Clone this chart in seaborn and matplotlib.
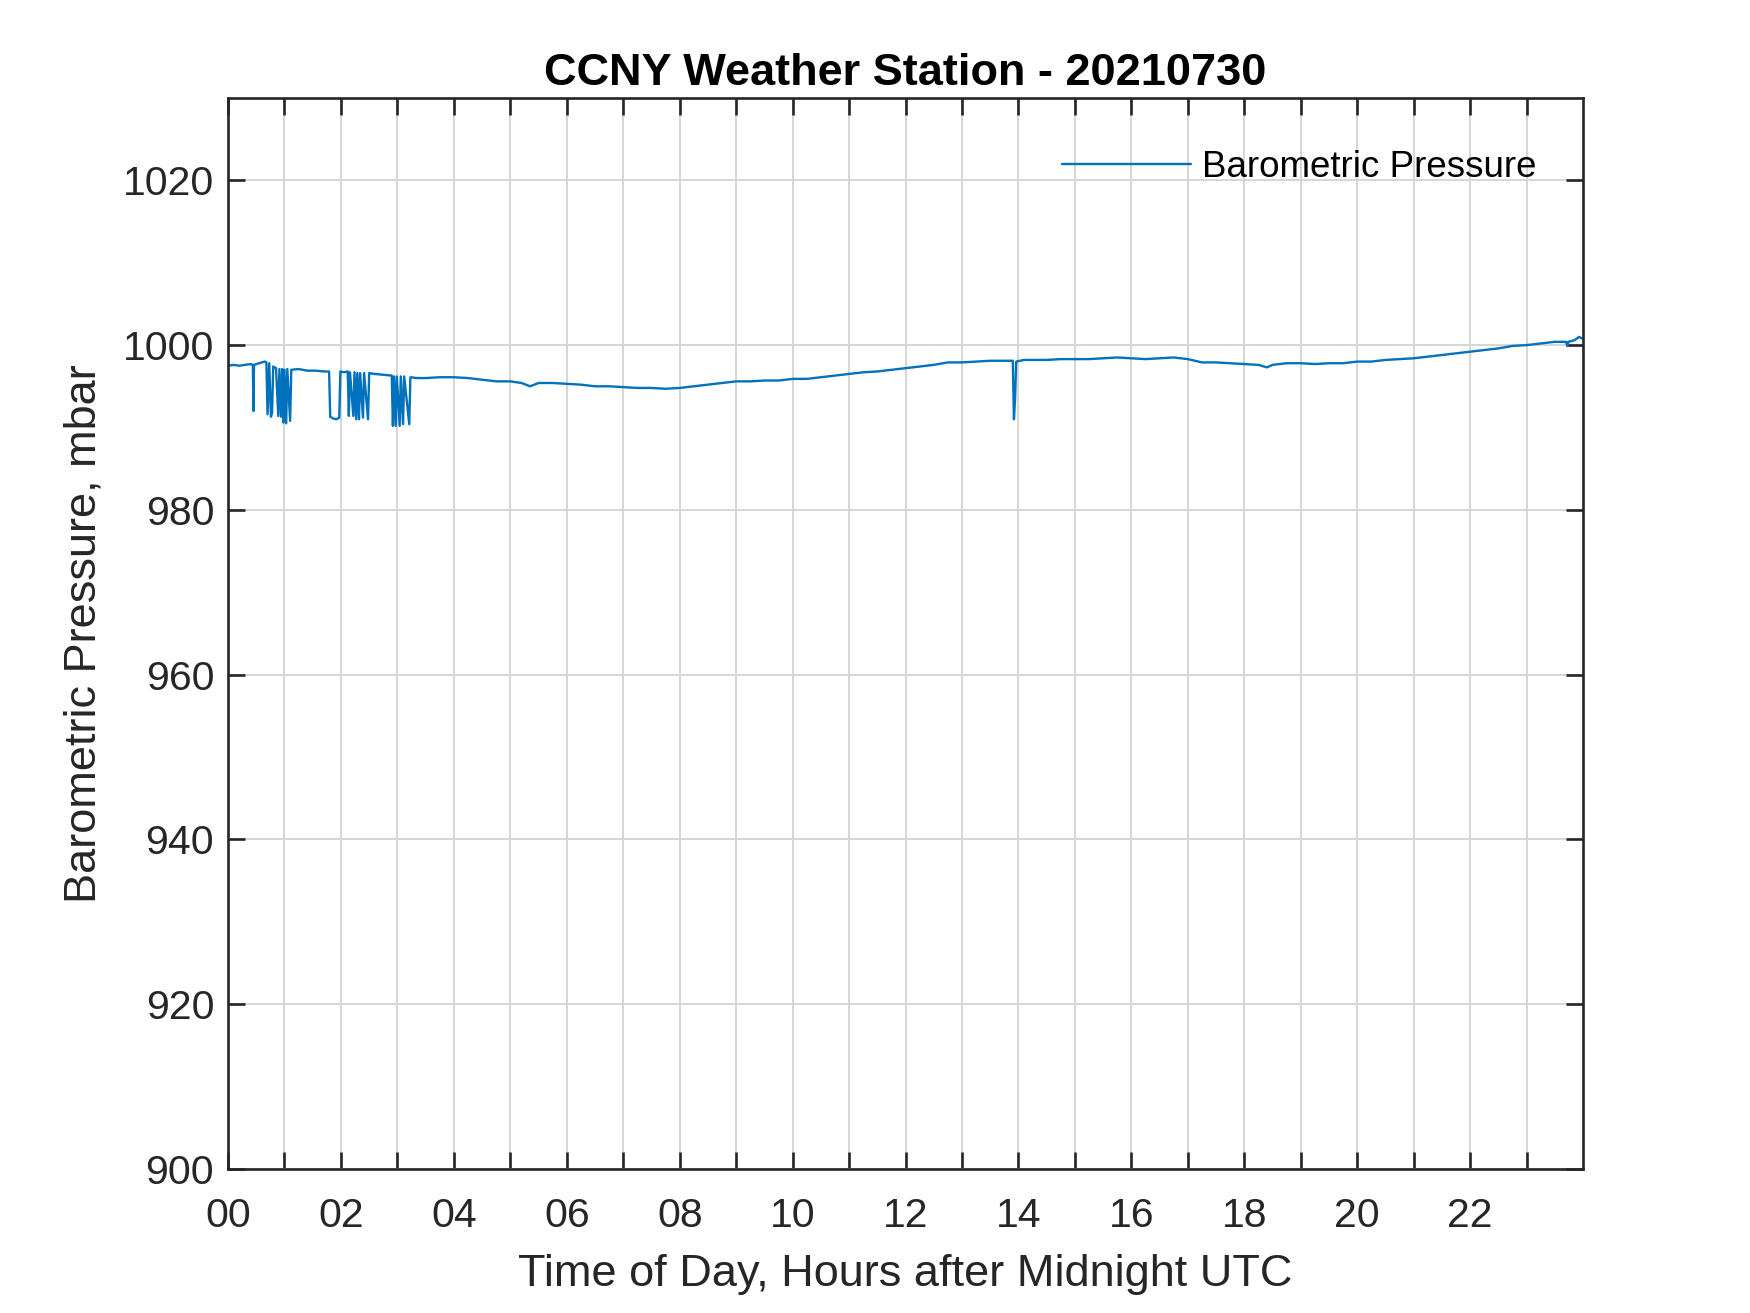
import matplotlib
matplotlib.use("Agg")
import matplotlib.pyplot as plt
import seaborn as sns
import pandas as pd
import numpy as np

sns.set_style("ticks")
plt.rcParams['font.family'] = ['Liberation Sans', 'DejaVu Sans']

# hours after midnight UTC
hours = [0.00, 0.10, 0.20, 0.30, 0.40, 0.44, 0.45, 0.46, 0.55, 0.65,
         0.68, 0.70, 0.73, 0.76, 0.78, 0.80, 0.85, 0.89, 0.91, 0.94,
         0.96, 0.98, 1.00, 1.03, 1.05, 1.10, 1.12, 1.25, 1.40, 1.55,
         1.70, 1.79, 1.81, 1.86, 1.92, 1.97, 1.99, 2.05, 2.12, 2.14,
         2.16, 2.22, 2.24, 2.27, 2.29, 2.32, 2.34, 2.39, 2.41, 2.48,
         2.50, 2.60, 2.75, 2.90, 2.92, 2.94, 2.97, 2.99, 3.04, 3.06,
         3.10, 3.12, 3.21, 3.23, 3.35, 3.50, 3.75, 4.00, 4.25, 4.50,
         4.75, 5.00, 5.20, 5.35, 5.50, 5.75, 6.00, 6.25, 6.50, 6.75,
         7.00, 7.25, 7.50, 7.75, 8.00, 8.25, 8.50, 8.75, 9.00, 9.25,
         9.50, 9.75, 10.00, 10.25, 10.50, 10.75, 11.00, 11.25, 11.50, 11.75,
         12.00, 12.25, 12.50, 12.75, 13.00, 13.25, 13.50, 13.75, 13.90, 13.92,
         13.94, 13.96, 14.10, 14.25, 14.50, 14.75, 15.00, 15.25, 15.50, 15.75,
         16.00, 16.25, 16.50, 16.75, 17.00, 17.25, 17.50, 17.75, 18.00, 18.25,
         18.40, 18.50, 18.75, 19.00, 19.25, 19.50, 19.75, 20.00, 20.25, 20.50,
         20.75, 21.00, 21.25, 21.50, 21.75, 22.00, 22.25, 22.50, 22.75, 23.00,
         23.25, 23.50, 23.70, 23.72, 23.74, 23.85, 23.93, 23.98]

# barometric pressure, mbar
pressure = [997.5, 997.6, 997.5, 997.6, 997.7, 997.6, 992.0, 997.6, 997.8, 998.0,
            997.9, 991.6, 997.8, 991.3, 991.8, 997.4, 997.2, 991.4, 997.1, 991.3,
            997.1, 990.6, 997.0, 990.5, 997.1, 990.8, 997.0, 997.1, 996.9, 996.9,
            996.8, 996.8, 991.3, 991.1, 991.0, 991.2, 996.8, 996.7, 996.8, 991.4,
            996.7, 991.4, 996.7, 991.0, 996.6, 991.0, 996.6, 991.2, 996.6, 991.0,
            996.6, 996.5, 996.4, 996.3, 990.2, 996.2, 990.2, 996.2, 990.2, 996.2,
            990.4, 996.2, 990.4, 996.1, 996.0, 996.0, 996.1, 996.1, 996.0, 995.8,
            995.6, 995.6, 995.4, 995.0, 995.4, 995.4, 995.3, 995.2, 995.0, 995.0,
            994.9, 994.8, 994.8, 994.7, 994.8, 995.0, 995.2, 995.4, 995.6, 995.6,
            995.7, 995.7, 995.9, 995.9, 996.1, 996.3, 996.5, 996.7, 996.8, 997.0,
            997.2, 997.4, 997.6, 997.9, 997.9, 998.0, 998.1, 998.1, 998.1, 991.0,
            993.5, 998.0, 998.2, 998.2, 998.2, 998.3, 998.3, 998.3, 998.4, 998.5,
            998.4, 998.3, 998.4, 998.5, 998.3, 997.9, 997.9, 997.8, 997.7, 997.6,
            997.3, 997.6, 997.8, 997.8, 997.7, 997.8, 997.8, 998.0, 998.0, 998.2,
            998.3, 998.4, 998.6, 998.8, 999.0, 999.2, 999.4, 999.6, 999.9, 1000.0,
            1000.2, 1000.4, 1000.4, 999.9, 1000.4, 1000.6, 1001.0, 1000.8]

hour_ticks = list(range(0, 24))
hour_labels = ["%02d" % h if h % 2 == 0 else "" for h in hour_ticks]
p_ticks = [900, 920, 940, 960, 980, 1000, 1020]

df = pd.DataFrame({"hour": hours, "pressure": pressure})

ink = "#262626"
fig = plt.figure(figsize=(17.5, 13.13), dpi=100)
ax = fig.add_axes([0.1303, 0.1097, 0.7743, 0.8157])

sns.lineplot(data=df, x="hour", y="pressure", ax=ax, color="#0072BD",
             linewidth=1.7, estimator=None, label="Barometric Pressure")

ax.set_xlim(0, 24)
ax.set_ylim(900, 1030)
ax.set_xticks(hour_ticks)
ax.set_xticklabels(hour_labels)
ax.set_yticks(p_ticks)
ax.grid(True, color="#d6d6d6", linewidth=1.4)
ax.set_axisbelow(True)

for s in ax.spines.values():
    s.set_visible(True)
    s.set_color(ink)
    s.set_linewidth(1.9)
ax.tick_params(direction="in", length=12.5, width=1.9, color=ink,
               labelcolor=ink, labelsize=29.5, top=True, right=True)
ax.tick_params(axis="x", pad=20)
ax.tick_params(axis="y", pad=10)

ax.set_xlabel("Time of Day, Hours after Midnight UTC", fontsize=32.5, color=ink, labelpad=14)
ax.set_ylabel("Barometric Pressure, mbar", fontsize=32.5, color=ink, labelpad=13)
ax.set_title("CCNY Weather Station - 20210730", fontsize=32.5, fontweight="bold",
             color="black", pad=9)

leg = ax.legend(loc="upper right", bbox_to_anchor=(0.99, 0.982), frameon=False,
                fontsize=26.5, handlelength=3.5, handletextpad=0.3)
for t in leg.get_texts():
    t.set_color("black")

fig.savefig("out.png", dpi=100)
